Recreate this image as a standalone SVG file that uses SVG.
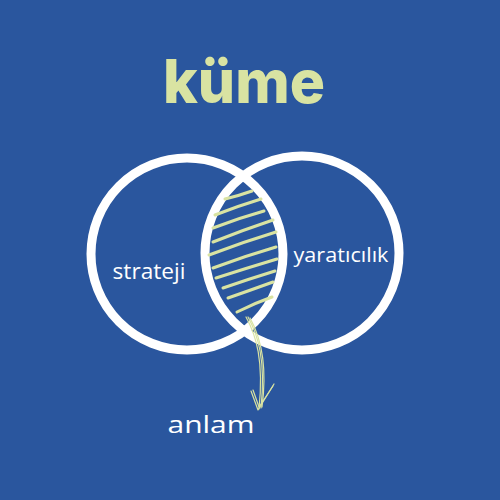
<svg xmlns="http://www.w3.org/2000/svg" width="500" height="500" viewBox="0 0 500 500">
<style>
.ring{fill:none;stroke:#ffffff;stroke-width:9}
.hatch{fill:none;stroke:#d9e3a2;stroke-width:3;stroke-linecap:round}
.arrow{fill:none;stroke:#d9e3a2;stroke-width:1.2;stroke-linecap:round;stroke-linejoin:round}
.hand{font-family:"Open Sans","DejaVu Sans",sans-serif;font-weight:500;fill:#ffffff}
</style>
<rect width="500" height="500" fill="#2a569e"/>
<g id="title">
<text x="244" y="103" text-anchor="middle" font-family="Inter,'Liberation Sans',sans-serif" font-weight="800" font-size="60" fill="#d9e3a2" textLength="162" lengthAdjust="spacingAndGlyphs">küme</text>
</g>
<g id="strateji">
<circle class="ring" cx="187" cy="254" r="96"/>
<text class="hand" x="149" y="279" text-anchor="middle" font-size="22" textLength="73" lengthAdjust="spacingAndGlyphs">strateji</text>
</g>
<g id="yaraticilik">
<circle class="ring" cx="302" cy="253" r="97"/>
<text class="hand" x="341" y="262" text-anchor="middle" font-size="20" textLength="95" lengthAdjust="spacingAndGlyphs">yaratıcılık</text>
</g>
<g id="kesisim">
<path class="hatch" d="M225,199 Q238,196 252,191"/>
<path class="hatch" d="M215,215 Q238,206 261,199"/>
<path class="hatch" d="M213,228 Q239,218 264,211"/>
<path class="hatch" d="M213,242 Q243,230 273,220"/>
<path class="hatch" d="M209,255 Q243,242 276,232"/>
<path class="hatch" d="M213,268 Q245,256 276,247"/>
<path class="hatch" d="M216,278 Q247,268 277,259"/>
<path class="hatch" d="M223,288 Q249,279 275,271"/>
<path class="hatch" d="M228,298 Q251,290 273,282"/>
<path class="hatch" d="M237,312 Q255,303 272,297"/>
</g>
<g id="connectors">
<path class="arrow" d="M246,317 C256,335 264,360 259,409"/>
<path class="arrow" d="M248,317 C258,335 266,360 261,408"/>
<path class="arrow" d="M250,318 C260,336 268,362 262,407"/>
<path class="arrow" d="M251,391 L258,410 L274,384"/>
<path class="arrow" d="M253,390 L259,407 L273,386"/>
</g>
<g id="anlam">
<text class="hand" x="211" y="433" text-anchor="middle" font-size="24" textLength="87" lengthAdjust="spacingAndGlyphs">anlam</text>
</g>
</svg>
